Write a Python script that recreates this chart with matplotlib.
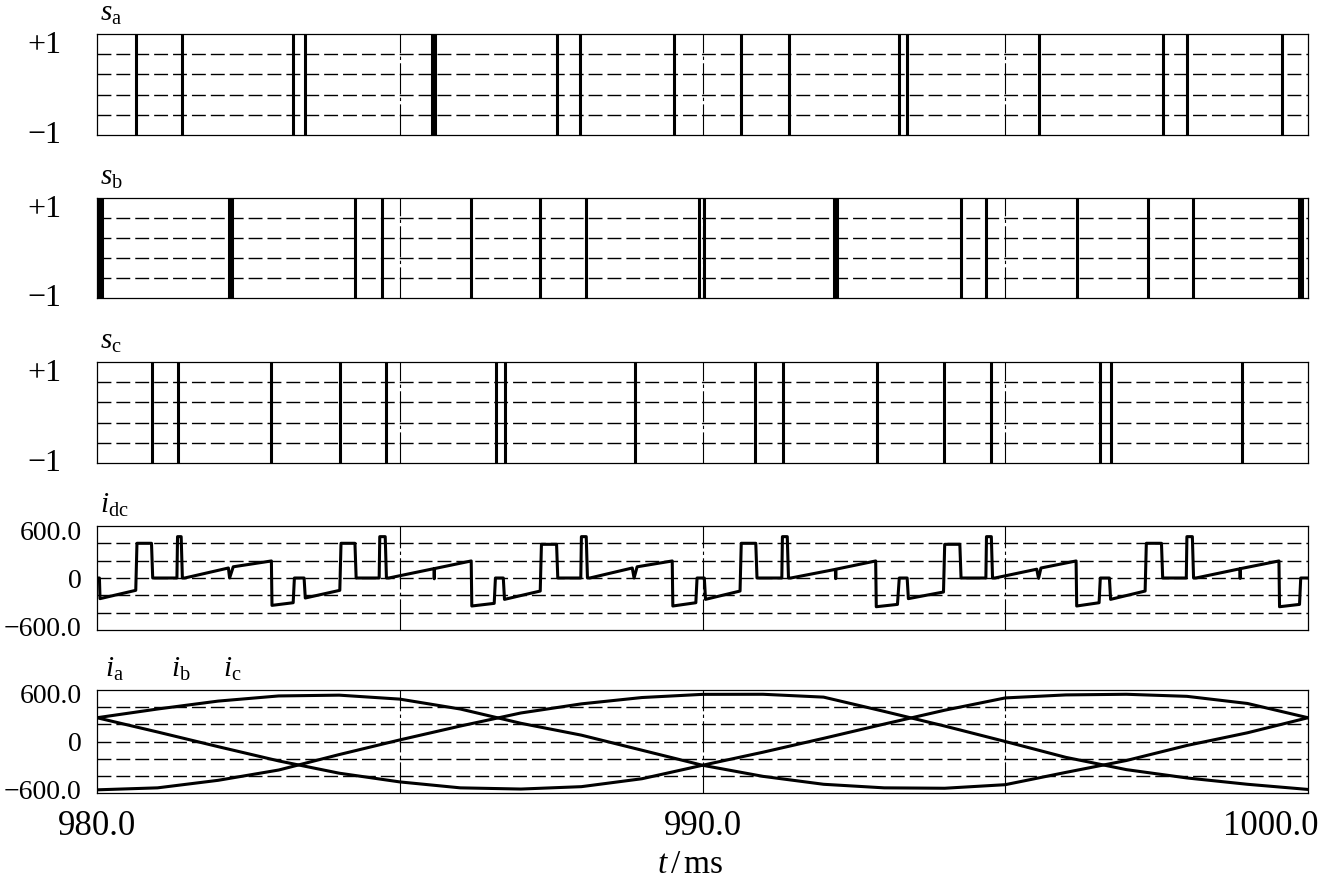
import matplotlib
matplotlib.use("Agg")
import matplotlib.pyplot as plt
import matplotlib.transforms as mtransforms

plt.rcParams['font.family'] = 'Liberation Serif'
plt.rcParams['mathtext.fontset'] = 'custom'
plt.rcParams['mathtext.rm'] = 'Liberation Serif'
plt.rcParams['mathtext.it'] = 'Liberation Serif:italic'

# switching instants of s_a, s_b, s_c (ms)
SA_TIMES = [980.65, 981.40, 983.23, 983.43, 985.53, 985.58, 987.59, 987.98, 989.53,
            990.64, 991.43, 993.24, 993.37, 995.56, 997.61, 998.00, 999.57]
SB_TIMES = [980.03, 980.09, 982.18, 982.23, 984.26, 984.70, 986.18, 987.31, 988.08,
            989.94, 990.02, 992.17, 992.22, 994.27, 994.68, 996.19, 997.35, 998.10,
            999.85, 999.90]
SC_TIMES = [980.91, 981.33, 982.87, 984.01, 984.78, 986.59, 986.73, 988.89, 990.86,
            991.33, 992.88, 993.99, 994.76, 996.56, 996.75, 998.91]

# dc-link current
IDC_T = [980.00, 980.04, 980.05, 980.64, 980.66, 980.90, 980.92, 981.32, 981.33, 981.39,
         981.41, 981.45, 982.17, 982.19, 982.25, 982.88, 982.89, 983.24, 983.26, 983.42,
         983.44, 984.01, 984.03, 984.26, 984.28, 984.66, 984.67, 984.76, 984.78, 984.82,
         985.565, 985.57, 985.575, 986.18, 986.19, 986.56, 986.58, 986.71, 986.73, 987.32,
         987.34, 987.59, 987.61, 987.99, 988.00, 988.08, 988.10, 988.14, 988.84, 988.87,
         988.92, 989.50, 989.51, 989.89, 989.91, 990.03, 990.05, 990.62, 990.64, 990.88,
         990.90, 991.31, 991.32, 991.40, 991.42, 991.46, 992.195, 992.20, 992.205, 992.86,
         992.87, 993.22, 993.25, 993.38, 993.40, 993.98, 994.00, 994.25, 994.27, 994.68,
         994.69, 994.77, 994.79, 994.83, 995.52, 995.55, 995.59, 996.17, 996.18, 996.55,
         996.57, 996.72, 996.74, 997.31, 997.33, 997.58, 997.60, 997.99, 998.00, 998.09,
         998.11, 998.15, 998.875, 998.88, 998.885, 999.52, 999.53, 999.86, 999.88, 1000.00]
IDC_V = [0, 0, -258, -154, 434, 434, 0, 0, 517, 517,
         0, 0, 125, 0, 140, 213, -342, -309, 0, 0,
         -250, -154, 434, 434, 0, 0, 517, 517, 0, 0,
         117, -10, 118, 213, -350, -317, 0, 0, -267, -163,
         421, 421, 0, 0, 517, 517, 0, 0, 125, 0,
         140, 213, -350, -309, 0, 0, -267, -163, 434, 434,
         0, 0, 517, 517, 0, 0, 108, -8, 110, 213,
         -359, -330, 0, 0, -258, -175, 421, 421, 0, 0,
         517, 517, 0, 0, 110, -5, 125, 213, -350, -309,
         0, 0, -267, -163, 434, 434, 0, 0, 517, 517,
         0, 0, 115, -5, 117, 213, -359, -330, 0, 0]

# phase currents
T_CURR = [980, 981, 982, 983, 984, 985, 986, 987, 988, 989, 990,
          991, 992, 993, 994, 995, 996, 997, 998, 999, 1000]
CURR_1 = [-610, -585, -490, -360, -165, 20, 195, 360, 475, 555, 595,
          596, 560, 380, 195, 0, -200, -355, -460, -540, -605]
CURR_2 = [300, 410, 510, 575, 585, 535, 410, 230, 80, -110, -300,
          -440, -540, -585, -590, -545, -390, -240, -50, 110, 300]
CURR_3 = [300, 120, -65, -245, -400, -510, -585, -600, -570, -470, -300,
          -135, 40, 220, 395, 550, 588, 596, 570, 480, 300]

S_TICKS = [1, -1]
S_TICKLABELS = ["+1", "\u22121"]
I_TICKS = [600, 0, -600]
I_TICKLABELS = ["600.0", "0", "\u2212600.0"]
X_TICKS = [980, 990, 1000]
X_TICKLABELS = ["980.0", "990.0", "1000.0"]
V_GRID = [985, 990, 995]
S_GRID = [-0.6, -0.2, 0.2, 0.6]
I_GRID = [-433, -217, 0, 217, 433]

FS = 21
W, H = 1319, 881


def make_axes(fig, top_px, bottom_px):
    left, right = 97, 1308
    return fig.add_axes([left / W, 1 - bottom_px / H, (right - left) / W, (bottom_px - top_px) / H])


def shift(label, fig, dx_px, dy_px):
    label.set_transform(label.get_transform()
                        + mtransforms.ScaledTranslation(dx_px / 100, dy_px / 100, fig.dpi_scale_trans))


def style(ax, hgrid, ylim, ticks, labels, ypad, ysize):
    ax.set_xlim(980, 1000)
    ax.set_ylim(*ylim)
    for y in hgrid:
        ax.axhline(y, color='black', lw=1.0, dashes=(10, 3.6), zorder=1)
    for x in V_GRID:
        ax.axvline(x, color='black', lw=0.8, dashes=(28, 3, 3, 3), zorder=1)
    ax.set_yticks(ticks, labels)
    ax.set_xticks(X_TICKS, X_TICKLABELS)
    ax.tick_params(length=0)
    ax.tick_params(axis='y', labelsize=ysize, pad=ypad)
    ax.tick_params(axis='x', labelbottom=False, labelsize=25, pad=12)
    for s in ax.spines.values():
        s.set_linewidth(0.9)


def main():
    fig = plt.figure(figsize=(W / 100, H / 100), dpi=100)

    panels = [(34, 135, SA_TIMES, r'$s_{\rm a}$'),
              (198, 298, SB_TIMES, r'$s_{\rm b}$'),
              (362, 463, SC_TIMES, r'$s_{\rm c}$')]
    for top, bot, times, name in panels:
        ax = make_axes(fig, top, bot)
        style(ax, S_GRID, (-1, 1), S_TICKS, S_TICKLABELS, 26, 23)
        ax.vlines(times, -1, 1, color='black', lw=2.2, zorder=3)
        ylabels = ax.get_yticklabels()
        shift(ylabels[0], fig, 0, -8)
        shift(ylabels[1], fig, 0, 3)
        ax.annotate(name, (0, 1), xycoords='axes fraction', xytext=(2, 5),
                    textcoords='offset points', fontsize=FS, ha='left', va='bottom')

    ax = make_axes(fig, 526, 630)
    style(ax, I_GRID, (-650, 650), I_TICKS, I_TICKLABELS, 11, 20)
    ax.plot(IDC_T, IDC_V, color='black', lw=2.2, zorder=3)
    ax.annotate(r'$i_{\rm dc}$', (0, 1), xycoords='axes fraction', xytext=(2, 5),
                textcoords='offset points', fontsize=FS, ha='left', va='bottom')

    ax = make_axes(fig, 690, 793)
    style(ax, I_GRID, (-650, 650), I_TICKS, I_TICKLABELS, 11, 20)
    for cur in (CURR_1, CURR_2, CURR_3):
        ax.plot(T_CURR, cur, color='black', lw=2.2, zorder=3)
    for off, name in zip((6, 53, 91), (r'$i_{\rm a}$', r'$i_{\rm b}$', r'$i_{\rm c}$')):
        ax.annotate(name, (0, 1), xycoords='axes fraction', xytext=(off, 5),
                    textcoords='offset points', fontsize=FS, ha='left', va='bottom')
    ax.tick_params(axis='x', labelbottom=True)
    last = ax.get_xticklabels()[-1]
    last.set_horizontalalignment('right')
    shift(last, fig, 11, 0)
    fig.text(690 / W, 1 - 865 / H, r'$t\,/\,$ms', fontsize=24, ha='center', va='center')

    fig.savefig('out.png', dpi=100)


if __name__ == "__main__":
    main()
